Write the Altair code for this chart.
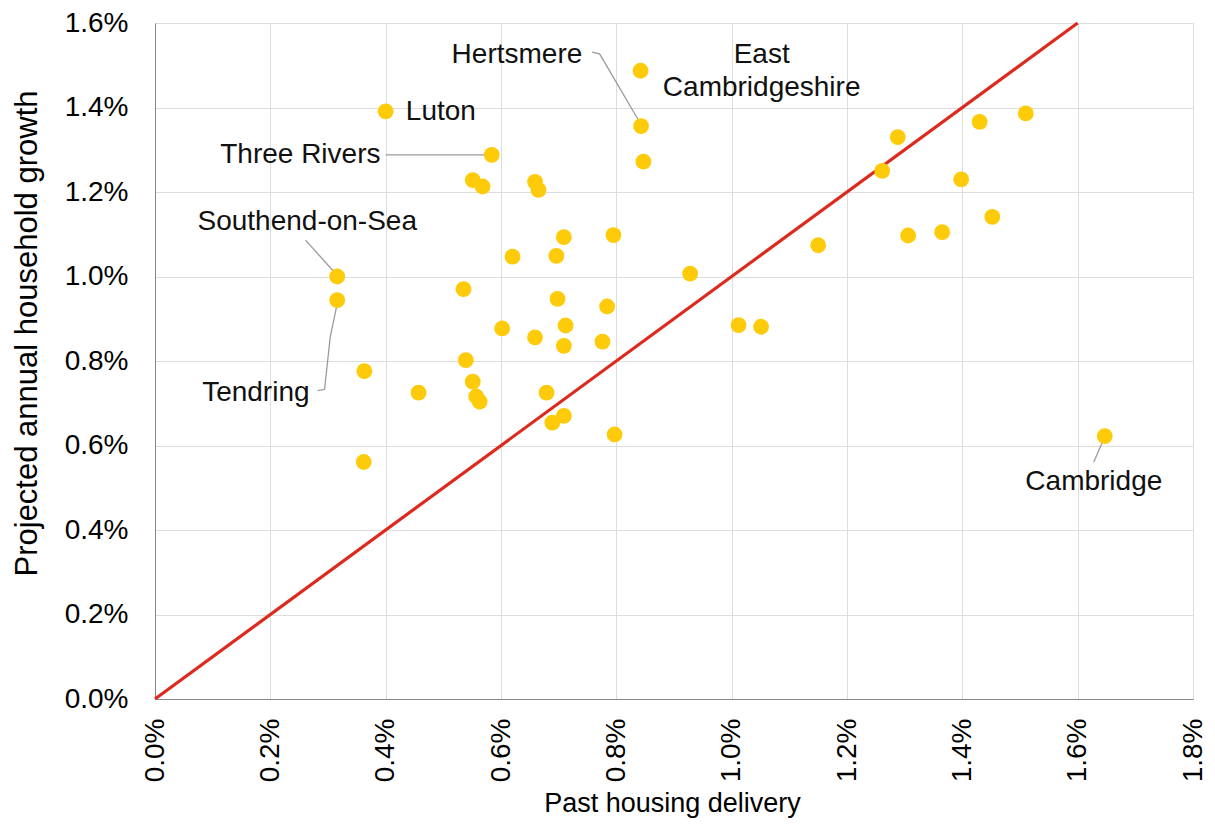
import altair as alt
import pandas as pd

# ---- data (percent values) ----
past_delivery = [0.400, 0.584, 0.551, 0.568, 0.659, 0.665, 0.842, 0.843, 0.847,
                 0.316, 0.316, 0.363, 0.362, 0.457, 0.535, 0.539, 0.551, 0.557,
                 0.563, 0.602, 0.620, 0.659, 0.696, 0.709, 0.698, 0.712, 0.709,
                 0.679, 0.709, 0.689, 0.795, 0.784, 0.776, 0.797, 0.928, 1.012,
                 1.051, 1.150, 1.261, 1.288, 1.306, 1.365, 1.398, 1.430, 1.452,
                 1.510, 1.647]
household_growth = [1.391, 1.288, 1.228, 1.213, 1.224, 1.205, 1.487, 1.356, 1.272,
                    1.000, 0.944, 0.776, 0.561, 0.725, 0.970, 0.802, 0.751, 0.716,
                    0.704, 0.877, 1.047, 0.856, 1.049, 1.093, 0.947, 0.884, 0.836,
                    0.725, 0.670, 0.654, 1.098, 0.929, 0.846, 0.626, 1.007, 0.885,
                    0.881, 1.074, 1.250, 1.330, 1.097, 1.105, 1.230, 1.366, 1.141,
                    1.386, 0.622]

# parity line
line_x = [0.0, 1.6]
line_y = [0.0, 1.6]

# labels
label_text = ["Luton", "Three Rivers", "Hertsmere", "Tendring",
              "Southend-on-Sea", "East", "Cambridgeshire", "Cambridge"]
label_x = [0.435, 0.391, 0.741, 0.268, 0.264, 1.052, 1.052, 1.628]
label_y = [1.390, 1.288, 1.524, 0.725, 1.130, 1.524, 1.446, 0.514]
label_align = ["left", "right", "right", "right", "center", "center", "center", "center"]

# leader lines (label, x, y in order)
leader_name = ["Three Rivers", "Three Rivers",
               "Hertsmere", "Hertsmere", "Hertsmere",
               "Southend-on-Sea", "Southend-on-Sea",
               "Tendring", "Tendring", "Tendring", "Tendring",
               "Cambridge", "Cambridge"]
leader_x = [0.400, 0.573,
            0.758, 0.771, 0.841,
            0.261, 0.312,
            0.282, 0.294, 0.304, 0.316,
            1.628, 1.645]
leader_y = [1.288, 1.288,
            1.531, 1.527, 1.364,
            1.086, 1.009,
            0.730, 0.733, 0.858, 0.936,
            0.561, 0.615]

FONT = "Liberation Sans, Arial, Helvetica, sans-serif"

pts = pd.DataFrame({"x": past_delivery, "y": household_growth})
ln = pd.DataFrame({"x": line_x, "y": line_y})
lab = pd.DataFrame({"x": label_x, "y": label_y, "text": label_text, "align": label_align})
lead = pd.DataFrame({"name": leader_name, "x": leader_x, "y": leader_y,
                     "order": list(range(len(leader_x)))})

ticks_x = [round(i * 0.2, 1) for i in range(10)]
ticks_y = [round(i * 0.2, 1) for i in range(9)]

xscale = alt.Scale(domain=[0, 1.8], nice=False)
yscale = alt.Scale(domain=[0, 1.6], nice=False)

xaxis = alt.Axis(values=ticks_x, labelExpr="format(datum.value, '.1f') + '%'",
                 labelAngle=270, labelFontSize=28, labelPadding=19, ticks=False,
                 title="Past housing delivery", titleFontSize=27, titleFontWeight="normal",
                 titleX=517, titleY=104, titleBaseline="middle", titleAlign="center",
                 grid=True)
yaxis = alt.Axis(values=ticks_y, labelExpr="format(datum.value, '.1f') + '%'",
                 labelFontSize=28, labelPadding=27, ticks=False,
                 title="Projected annual household growth", titleFontSize=31,
                 titleFontWeight="normal", titleAngle=270, titleX=-128, titleY=310,
                 titleBaseline="middle", titleAlign="center", grid=True)

red = alt.Chart(ln).mark_line(color="#DD2A1E", strokeWidth=3.2).encode(
    x=alt.X("x:Q", scale=xscale, axis=xaxis), y=alt.Y("y:Q", scale=yscale, axis=yaxis))

leaders = alt.Chart(lead).mark_line(color="#9a9a9a", strokeWidth=1.3).encode(
    x=alt.X("x:Q", scale=xscale), y=alt.Y("y:Q", scale=yscale),
    detail="name:N", order="order:Q")

dots = alt.Chart(pts).mark_circle(size=250, color="#FDCB0A", opacity=1).encode(
    x=alt.X("x:Q", scale=xscale), y=alt.Y("y:Q", scale=yscale))

texts = []
for a in ["left", "right", "center"]:
    texts.append(
        alt.Chart(lab[lab["align"] == a]).mark_text(
            align=a, baseline="middle", fontSize=28, font=FONT, color="#111111"
        ).encode(x=alt.X("x:Q", scale=xscale), y=alt.Y("y:Q", scale=yscale), text="text:N")
    )

chart = alt.layer(red, leaders, dots, *texts).properties(
    width=1038, height=676,
    autosize=alt.AutoSizeParams(type="none"),
    padding={"left": 147, "top": 15, "right": 14, "bottom": 120},
).configure_axis(
    labelFont=FONT, titleFont=FONT, labelColor="#1a1a1a", titleColor="#1a1a1a",
    gridColor="#e4dddd", gridWidth=1, domainColor="#d4caca", domainWidth=1.5,
).configure_view(stroke=None).configure(background="white")

chart.save("out.html", embed_options={"renderer": "svg", "actions": False})
